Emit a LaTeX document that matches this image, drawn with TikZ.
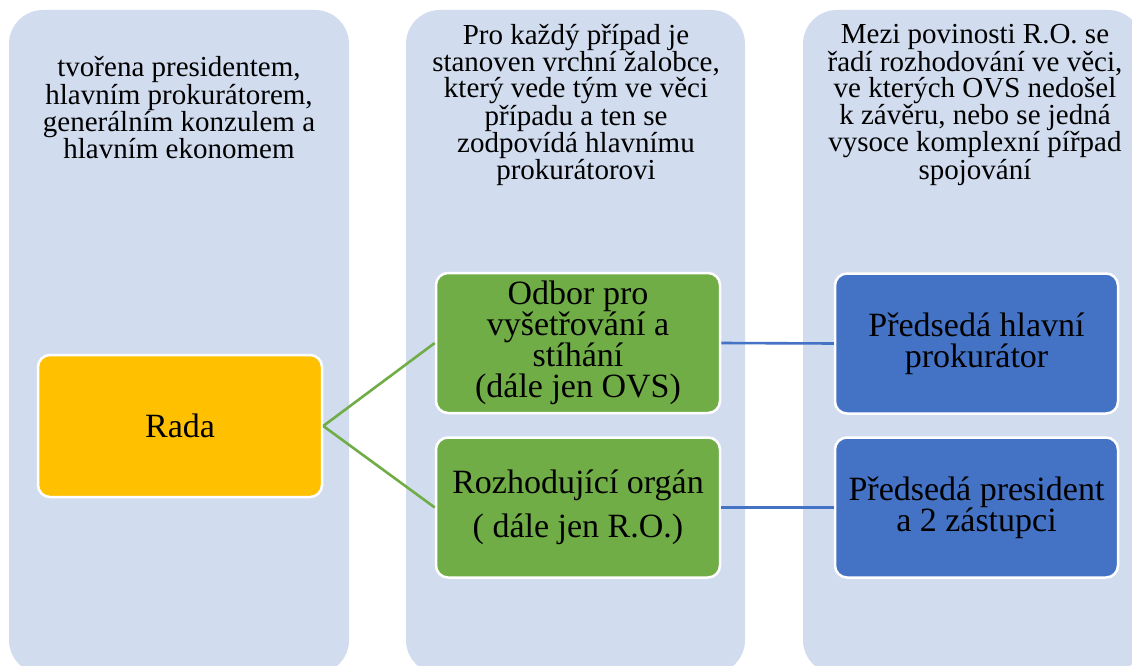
\documentclass[tikz,border=0pt]{standalone}
\usepackage{fontspec}
\setmainfont{Liberation Serif}
\definecolor{colbg}{RGB}{209,220,238}
\definecolor{radafill}{RGB}{255,192,0}
\definecolor{greenfill}{RGB}{112,173,71}
\definecolor{bluefill}{RGB}{68,114,196}
\begin{document}
\begin{tikzpicture}[x=1pt,y=-1pt,
  column/.style={fill=colbg, draw=none, rounded corners=34pt},
  coltext/.style={align=center, font=\fontsize{29}{26}\selectfont, inner sep=0pt},
  boxbase/.style={draw=white, line width=2.5pt, rounded corners=12pt, minimum width=284pt, align=center, font=\fontsize{34}{31}\selectfont, inner sep=0pt},
  radabox/.style={boxbase, fill=radafill, minimum height=142pt},
  greenbox/.style={boxbase, fill=greenfill, minimum height=140pt},
  bluebox/.style={boxbase, fill=bluefill, minimum height=140pt, minimum width=283pt},
  greenline/.style={draw=greenfill, line width=2.6pt},
  blueline/.style={draw=bluefill, line width=2.6pt}
]
\useasboundingbox (0,0) rectangle (1132,666);
\fill[white] (0,0) rectangle (1132,666);
\path[column] (9,10) rectangle (349,674);
\path[column] (406,10) rectangle (745,674);
\path[column] (803,10) rectangle (1142,674);

\node[coltext] (t1) at (179,108) {tvořena presidentem,\\hlavním prokurátorem,\\generálním konzulem a\\hlavním ekonomem};
\node[coltext] (t2) at (576,105) {Pro každý případ je\\stanoven vrchní žalobce,\\který vede tým ve věci\\případu a ten se\\zodpovídá hlavnímu\\prokurátorovi};
\node[coltext] (t3) at (975,105) {Mezi povinosti R.O. se\\řadí rozhodování ve věci,\\ve kterých OVS nedošel\\k závěru, nebo se jedná\\vysoce komplexní pířpad\\spojování};

\node[radabox] (rada) at (180,426) {Rada};
\node[greenbox] (odbor) at (578,343) {Odbor pro\\vyšetřování a\\stíhání\\(dále jen OVS)};
\node[greenbox] (ro) at (578,507.5) {Rozhodující orgán\\[13pt]( dále jen R.O.)};
\node[bluebox] (p1) at (976.5,343.5) {Předsedá hlavní\\prokurátor};
\node[bluebox] (p2) at (976.5,507.5) {Předsedá president\\a 2 zástupci};

\draw[greenline] (rada.east) -- (odbor.west);
\draw[greenline] (rada.east) -- (ro.west);
\draw[blueline] (odbor.east) -- (p1.west);
\draw[blueline] (ro.east) -- (p2.west);
\end{tikzpicture}
\end{document}
